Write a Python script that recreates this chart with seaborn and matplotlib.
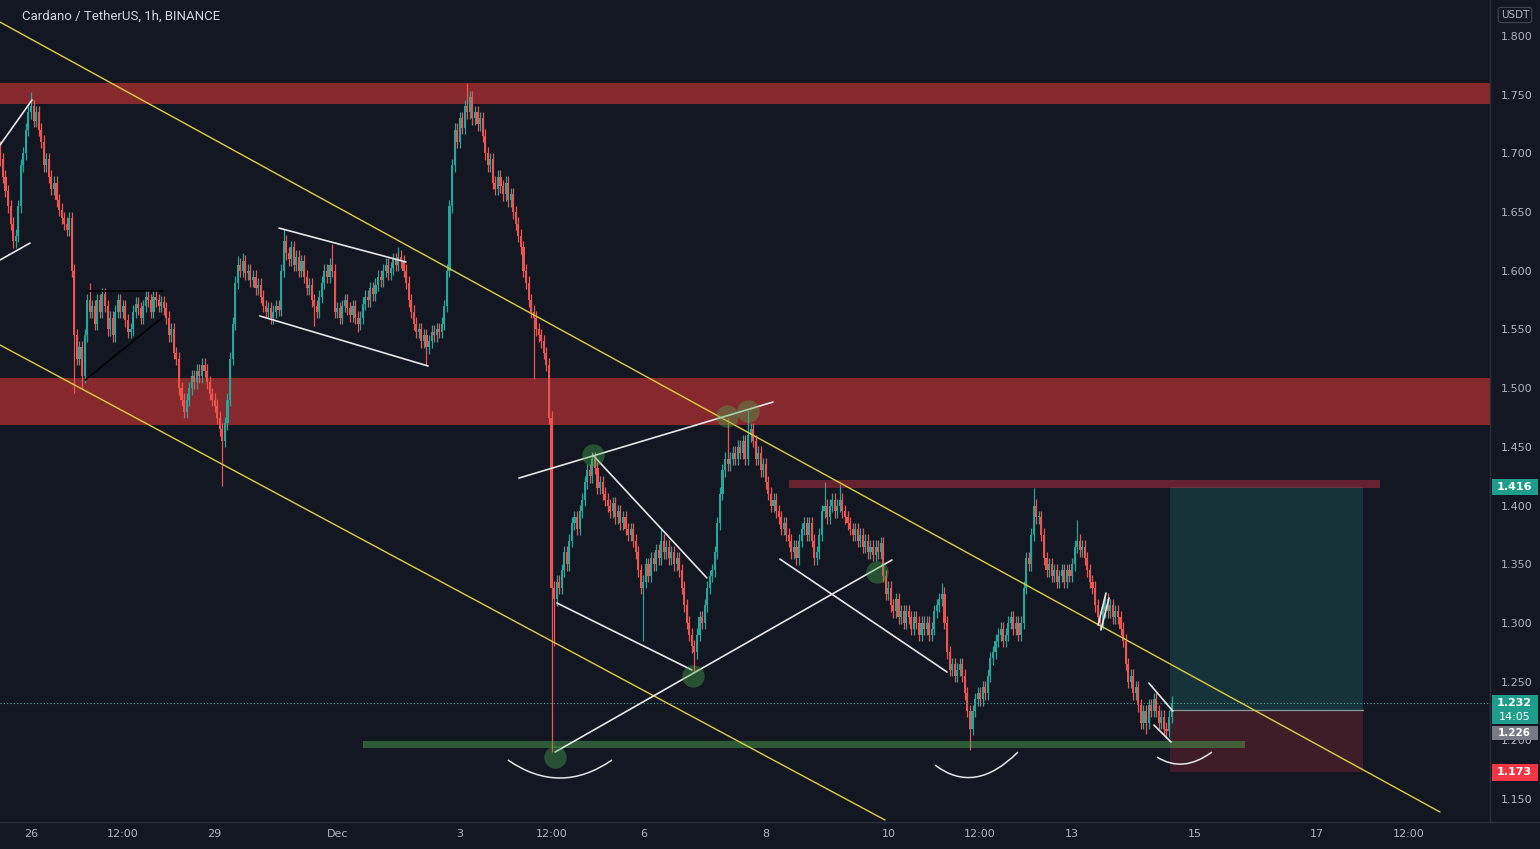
import numpy as np
import pandas as pd
import matplotlib
matplotlib.use("Agg")
import matplotlib.pyplot as plt
import matplotlib.transforms as mtransforms
from matplotlib.patches import Rectangle, PathPatch
from matplotlib.path import Path
from matplotlib.lines import Line2D
import seaborn as sns

# ---------------- data (hourly ADA/USDT, index 0 = Nov 25 12:00) ----------------
first_open = 1.705
closes = [
    1.695, 1.680, 1.668, 1.655, 1.640, 1.625, 1.630, 1.655, 1.690, 1.700,
    1.720, 1.735, 1.740, 1.728, 1.735, 1.720, 1.710, 1.690, 1.695, 1.680,
    1.670, 1.675, 1.660, 1.652, 1.645, 1.640, 1.635, 1.645, 1.600, 1.545,
    1.525, 1.535, 1.510, 1.545, 1.575, 1.565, 1.570, 1.555, 1.575, 1.565,
    1.580, 1.570, 1.550, 1.560, 1.545, 1.565, 1.575, 1.565, 1.570, 1.558,
    1.548, 1.550, 1.565, 1.572, 1.568, 1.560, 1.570, 1.578, 1.575, 1.565,
    1.578, 1.575, 1.570, 1.573, 1.568, 1.560, 1.545, 1.550, 1.530, 1.525,
    1.500, 1.490, 1.480, 1.490, 1.500, 1.510, 1.505, 1.515, 1.510, 1.520,
    1.515, 1.505, 1.495, 1.490, 1.485, 1.475, 1.465, 1.455, 1.470, 1.490,
    1.525, 1.555, 1.590, 1.605, 1.600, 1.608, 1.598, 1.600, 1.592, 1.595,
    1.585, 1.588, 1.578, 1.570, 1.565, 1.568, 1.560, 1.565, 1.570, 1.567,
    1.600, 1.625, 1.615, 1.610, 1.620, 1.605, 1.612, 1.600, 1.608, 1.595,
    1.585, 1.588, 1.575, 1.570, 1.565, 1.578, 1.590, 1.600, 1.595, 1.605,
    1.600, 1.565, 1.568, 1.560, 1.570, 1.575, 1.568, 1.562, 1.570, 1.560,
    1.555, 1.560, 1.572, 1.578, 1.575, 1.585, 1.580, 1.588, 1.595, 1.592,
    1.600, 1.605, 1.598, 1.602, 1.610, 1.605, 1.612, 1.608, 1.600, 1.590,
    1.575, 1.565, 1.555, 1.548, 1.550, 1.540, 1.545, 1.535, 1.540, 1.548,
    1.545, 1.550, 1.548, 1.555, 1.570, 1.600, 1.655, 1.690, 1.720, 1.710,
    1.730, 1.722, 1.740, 1.735, 1.748, 1.730, 1.735, 1.725, 1.730, 1.715,
    1.700, 1.690, 1.695, 1.675, 1.670, 1.680, 1.672, 1.665, 1.675, 1.660,
    1.665, 1.650, 1.640, 1.630, 1.620, 1.600, 1.590, 1.575, 1.565, 1.560,
    1.550, 1.545, 1.540, 1.530, 1.520, 1.475, 1.330, 1.320, 1.335, 1.330,
    1.345, 1.360, 1.350, 1.370, 1.385, 1.390, 1.380, 1.395, 1.405, 1.420,
    1.430, 1.425, 1.440, 1.432, 1.415, 1.420, 1.410, 1.405, 1.400, 1.395,
    1.402, 1.390, 1.395, 1.385, 1.390, 1.380, 1.375, 1.380, 1.370, 1.360,
    1.345, 1.330, 1.335, 1.350, 1.340, 1.355, 1.350, 1.362, 1.355, 1.370,
    1.360, 1.365, 1.355, 1.360, 1.350, 1.355, 1.345, 1.330, 1.315, 1.300,
    1.290, 1.280, 1.275, 1.290, 1.305, 1.300, 1.315, 1.330, 1.340, 1.345,
    1.360, 1.385, 1.410, 1.430, 1.440, 1.435, 1.440, 1.445, 1.440, 1.450,
    1.445, 1.455, 1.440, 1.460, 1.465, 1.455, 1.440, 1.445, 1.430, 1.435,
    1.420, 1.410, 1.400, 1.405, 1.395, 1.390, 1.380, 1.385, 1.375, 1.370,
    1.360, 1.365, 1.355, 1.370, 1.380, 1.385, 1.375, 1.385, 1.370, 1.355,
    1.360, 1.375, 1.395, 1.400, 1.390, 1.400, 1.405, 1.395, 1.400, 1.405,
    1.395, 1.390, 1.385, 1.380, 1.375, 1.380, 1.370, 1.375, 1.365, 1.370,
    1.360, 1.365, 1.358, 1.365, 1.360, 1.368, 1.340, 1.325, 1.330, 1.315,
    1.310, 1.320, 1.305, 1.310, 1.300, 1.310, 1.305, 1.295, 1.305, 1.300,
    1.290, 1.300, 1.295, 1.300, 1.290, 1.295, 1.310, 1.315, 1.320, 1.325,
    1.300, 1.275, 1.260, 1.265, 1.255, 1.260, 1.265, 1.255, 1.240, 1.225,
    1.210, 1.225, 1.235, 1.240, 1.235, 1.245, 1.240, 1.255, 1.270, 1.275,
    1.285, 1.290, 1.295, 1.285, 1.290, 1.300, 1.305, 1.295, 1.300, 1.290,
    1.300, 1.330, 1.355, 1.350, 1.375, 1.400, 1.390, 1.390, 1.375, 1.355,
    1.345, 1.350, 1.340, 1.345, 1.335, 1.340, 1.345, 1.335, 1.345, 1.340,
    1.350, 1.365, 1.370, 1.362, 1.365, 1.355, 1.345, 1.335, 1.330, 1.315,
    1.305, 1.300, 1.310, 1.320, 1.310, 1.315, 1.305, 1.310, 1.305, 1.295,
    1.285, 1.265, 1.250, 1.255, 1.240, 1.245, 1.230, 1.215, 1.225, 1.215,
    1.230, 1.225, 1.235, 1.225, 1.215, 1.220, 1.210, 1.208, 1.220, 1.232,
]
wick_high = {12: 1.752, 35: 1.59, 93: 1.613, 95: 1.615, 111: 1.636, 130: 1.623,
             156: 1.62, 183: 1.76, 232: 1.446, 259: 1.38, 285: 1.475, 293: 1.481,
             323: 1.42, 329: 1.418, 369: 1.334, 405: 1.415, 422: 1.388}
wick_low = {5: 1.619, 29: 1.496, 32: 1.50, 87: 1.417, 123: 1.553, 140: 1.548,
            167: 1.52, 209: 1.508, 216: 1.19, 217: 1.28, 252: 1.285, 272: 1.258,
            380: 1.192, 449: 1.205, 457: 1.202}

tick_hours = [12, 48, 84, 132, 180, 216, 252, 300, 348, 384, 420, 468, 516, 552]
tick_labels = ["26", "12:00", "29", "Dec", "3", "12:00", "6", "8", "10", "12:00",
               "13", "15", "17", "12:00"]
price_ticks = [1.15, 1.20, 1.25, 1.30, 1.35, 1.40, 1.45, 1.50, 1.55, 1.60,
               1.65, 1.70, 1.75, 1.80]

# zones (hour index, price)
zone_top = (1.742, 1.760)
zone_mid = (1.4686, 1.5086)
zone_res = (309.1, 540.7, 1.4149, 1.4217)
zone_sup = (142.1, 487.8, 1.1934, 1.1994)
position = dict(x0=458.4, x1=534.0, target=1.416, entry=1.226, stop=1.173)

yellow_lines = [((-0.15, 1.8119), (564.2, 1.1389)),
                ((-0.15, 1.5368), (346.7, 1.1321))]
white_lines = [((-0.15, 1.7071), (12.4, 1.7455)),
               ((-0.15, 1.6092), (11.6, 1.6236)),
               ((109.2, 1.6364), (158.96, 1.6075)),
               ((101.7, 1.5615), (167.6, 1.5189)),
               ((203.2, 1.4234), (302.8, 1.4882)),
               ((232.2, 1.4430), (276.9, 1.3383)),
               ((218.1, 1.3170), (271.0, 1.2599)),
               ((217.4, 1.1900), (349.4, 1.3536)),
               ((305.5, 1.3544), (371.0, 1.2582)),
               ((430.2, 1.2982), (433.3, 1.3255)),
               ((431.3, 1.2940), (434.5, 1.3212)),
               ((450.1, 1.2488), (459.5, 1.2249)),
               ((452.1, 1.2130), (458.8, 1.1985))]
black_lines = [((34.3, 1.5828), (63.7, 1.5828)),
               ((33.2, 1.5069), (63.7, 1.5606))]
circle_x = [217.4, 232.2, 271.4, 284.8, 293.0, 343.5]
circle_y = [1.1858, 1.4430, 1.2548, 1.4763, 1.4805, 1.3434]
arcs = [((198.9, 1.1832), (219.3, 1.1525), (239.7, 1.1832)),
        ((366.3, 1.1789), (381.9, 1.1530), (398.8, 1.1900)),
        ((453.3, 1.1857), (463.5, 1.1717), (474.8, 1.1900))]

# ---------------- styling ----------------
BG = "#131722"
UP = "#26a69a"
DOWN = "#ef5350"
TXT = "#b2b5be"
SEP = "#2a2e39"
WICK_PAD = 0.0055

sns.set_theme(style="dark")
plt.rcParams["font.family"] = ["DejaVu Sans"]

df = pd.DataFrame({"hour": np.arange(len(closes)), "close": closes})
df["open"] = df["close"].shift(1).fillna(first_open)
df["high"] = df[["open", "close"]].max(axis=1) + WICK_PAD
df["low"] = df[["open", "close"]].min(axis=1) - WICK_PAD
for k, v in wick_high.items():
    df.loc[k, "high"] = v
for k, v in wick_low.items():
    df.loc[k, "low"] = v
df["up"] = df["close"] >= df["open"]
df["color"] = np.where(df["up"], UP, DOWN)

fig = plt.figure(figsize=(15.4, 8.49), dpi=100, facecolor=BG)
ax = fig.add_axes([0, 27 / 849, 1490 / 1540, 822 / 849])
ax.set_facecolor(BG)
ax.set_xlim(-0.15, 583.8)
ax.set_ylim(1.1304, 1.8307)

# zones (behind candles)
ax.axhspan(*zone_top, color="#e53935", alpha=0.55, lw=0, zorder=1)
ax.axhspan(*zone_mid, color="#e53935", alpha=0.55, lw=0, zorder=1)
p = position
ax.add_patch(Rectangle((p["x0"], p["entry"]), p["x1"] - p["x0"], p["target"] - p["entry"],
                       fc=UP, alpha=0.2, lw=0, zorder=1))
ax.add_patch(Rectangle((p["x0"], p["stop"]), p["x1"] - p["x0"], p["entry"] - p["stop"],
                       fc="#f23645", alpha=0.2, lw=0, zorder=1))
ax.plot([p["x0"], p["x1"]], [p["entry"], p["entry"]], color="#8d9a9c", lw=0.9, zorder=2)

# candles
ax.vlines(df["hour"], df["low"], df["high"], colors=df["color"], lw=0.9, zorder=3)
body = (df["close"] - df["open"]).abs().clip(lower=0.0012)
ax.bar(df["hour"], body, bottom=df[["open", "close"]].min(axis=1), width=0.82,
       color=df["color"], lw=0, zorder=4)

# current price dotted line
last = closes[-1]
ax.axhline(last, color="#5aa8a0", lw=0.8, ls=(0, (1, 2)), zorder=2)

# overlay zones
r = zone_res
ax.add_patch(Rectangle((r[0], r[2]), r[1] - r[0], r[3] - r[2], fc="#f23645", alpha=0.38, lw=0, zorder=5))
s = zone_sup
ax.add_patch(Rectangle((s[0], s[2]), s[1] - s[0], s[3] - s[2], fc="#4caf50", alpha=0.45, lw=0, zorder=5))

# drawings
for (a, b) in yellow_lines:
    ax.plot([a[0], b[0]], [a[1], b[1]], color="#dccf3c", lw=1.0, zorder=6)
for (a, b) in white_lines:
    ax.plot([a[0], b[0]], [a[1], b[1]], color="#e6e6e6", lw=1.2, zorder=6)
for (a, b) in black_lines:
    ax.plot([a[0], b[0]], [a[1], b[1]], color="#000000", lw=1.1, zorder=6)
ax.scatter(circle_x, circle_y, s=260, color="#4caf50", alpha=0.38, lw=0, zorder=6)
for (p0, c, p2) in arcs:
    path = Path([p0, c, p2], [Path.MOVETO, Path.CURVE3, Path.CURVE3])
    ax.add_patch(PathPatch(path, fc="none", ec="#e6e6e6", lw=1.1, zorder=6))

# axes styling
for sp in ["top", "left"]:
    ax.spines[sp].set_visible(False)
ax.spines["right"].set_color(SEP)
ax.spines["bottom"].set_color(SEP)
ax.spines["right"].set_linewidth(1)
ax.spines["bottom"].set_linewidth(1)
ax.grid(False)
ax.set_xticks(tick_hours)
ax.set_xticklabels(tick_labels)
ax.set_yticks(price_ticks)
ax.set_yticklabels([f"{v:.3f}" for v in price_ticks])
ax.yaxis.tick_right()
ax.tick_params(axis="x", length=0, pad=5, colors=TXT, labelsize=8)
ax.tick_params(axis="y", length=0, pad=8, colors=TXT, labelsize=8)
fig.add_artist(Line2D([1490 / 1540, 1], [27 / 849, 27 / 849], color=SEP, lw=1))

# title
fig.text(22 / 1540, 1 - 16 / 849, "Cardano / TetherUS, 1h, BINANCE", color="#d1d4dc",
         fontsize=9.5, va="center", ha="left", family=["Roboto", "DejaVu Sans"])

# USDT label
fig.text(1515 / 1540, 1 - 15 / 849, "USDT", color=TXT, fontsize=7.5, ha="center", va="center",
         bbox=dict(boxstyle="round,pad=0.25", fc=BG, ec="#434651", lw=0.8))

# price tags on the right axis
trans = mtransforms.blended_transform_factory(ax.transAxes, ax.transData)
tags = [
    (1.4226, 1.4089, ["1.416"], [1.4157], "#1e9e8a", "white", 8),
    (1.2386, 1.2139, ["1.232", "14:05"], [1.2318, 1.2199], "#1e9e8a", "white", 8),
    (1.2122, 1.2003, ["1.226"], [1.2064], "#787b86", "white", 7.5),
    (1.1798, 1.1653, ["1.173"], [1.1726], "#f23645", "white", 8),
]
for top, bot, texts, ys, fc, tc, fs in tags:
    ax.add_patch(Rectangle((1.0013, bot), 0.0309, top - bot, transform=trans,
                           fc=fc, ec="none", clip_on=False, zorder=10))
    for t, yv in zip(texts, ys):
        ax.text(1.0165, yv, t, transform=trans, color=tc, fontsize=fs, ha="center",
                va="center", clip_on=False, zorder=11,
                fontweight="bold" if t != "14:05" else "normal")

fig.savefig("out.png", dpi=100, facecolor=BG)
